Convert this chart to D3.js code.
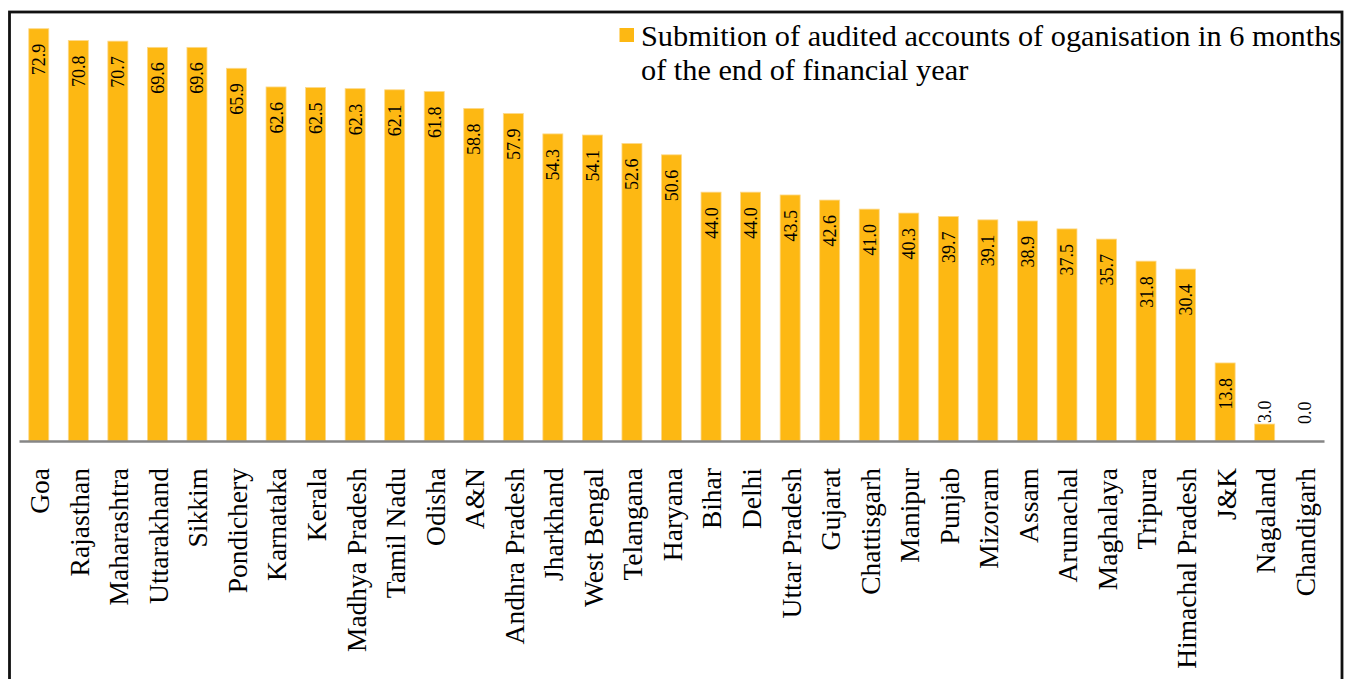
<!DOCTYPE html>
<html>
<head>
<meta charset="utf-8">
<script src="https://cdn.jsdelivr.net/npm/d3@7"></script>
<style>
  html, body { margin: 0; padding: 0; background: #fff; }
  svg { display: block; }
  text { font-family: "Liberation Serif", "Times New Roman", serif; fill: #000; }
</style>
</head>
<body>
<svg id="chart" width="1345" height="679"></svg>
<script>
const categories = ["Goa","Rajasthan","Maharashtra","Uttarakhand","Sikkim","Pondichery","Karnataka","Kerala","Madhya Pradesh","Tamil Nadu","Odisha","A&N","Andhra Pradesh","Jharkhand","West Bengal","Telangana","Haryana","Bihar","Delhi","Uttar Pradesh","Gujarat","Chattisgarh","Manipur","Punjab","Mizoram","Assam","Arunachal","Maghalaya","Tripura","Himachal Pradesh","J&K","Nagaland","Chandigarh"];
const values = [72.9,70.8,70.7,69.6,69.6,65.9,62.6,62.5,62.3,62.1,61.8,58.8,57.9,54.3,54.1,52.6,50.6,44.0,44.0,43.5,42.6,41.0,40.3,39.7,39.1,38.9,37.5,35.7,31.8,30.4,13.8,3.0,0.0];
const seriesName = ["Submition of audited accounts of oganisation in 6 months", "of the end of financial year"];

const svg = d3.select("#chart");
const barColor = "#FDB813";

// frame
svg.append("rect")
  .attr("x", 9.5).attr("y", 12).attr("width", 1332.5).attr("height", 700)
  .attr("fill", "none").attr("stroke", "#111").attr("stroke-width", 2.8);

const x = d3.scaleBand().domain(categories).range([19, 1324]).paddingInner(0.494).paddingOuter(0.247);
const y = d3.scaleLinear().domain([0, 72.9]).range([441, 28.7]);

const data = categories.map((c, i) => ({c, v: values[i]}));

svg.append("g").selectAll("rect").data(data).join("rect")
  .attr("x", d => x(d.c)).attr("width", x.bandwidth())
  .attr("y", d => y(d.v)).attr("height", d => y(0) - y(d.v))
  .attr("fill", barColor).attr("stroke", "#FDD98A").attr("stroke-width", 0.8);

// axis line
const xAxis = d3.axisBottom(x).tickSize(0).tickPadding(0);
const ax = svg.append("g").attr("transform", `translate(0,${y(0)})`).call(xAxis);
ax.select(".domain").attr("stroke", "#868686").attr("stroke-width", 2.6);
ax.selectAll(".tick text")
  .attr("font-family", "Liberation Serif, Times New Roman, serif")
  .attr("font-size", 27.5).attr("fill", "#000")
  .attr("text-anchor", "end")
  .attr("transform", "translate(0,27) rotate(-90)")
  .attr("x", 0).attr("y", 0).attr("dy", "0.38em");

// value labels
svg.append("g").selectAll("text").data(data).join("text")
  .attr("font-size", 18)
  .attr("transform", d => {
    const cx = x(d.c) + x.bandwidth() / 2;
    const h = y(0) - y(d.v);
    if (h > 55) return `translate(${cx},${y(d.v) + 15}) rotate(-90)`;
    return `translate(${cx},${Math.min(y(d.v), y(0) - 16) - 1}) rotate(-90)`;
  })
  .attr("text-anchor", d => (y(0) - y(d.v) > 55) ? "end" : "start")
  .attr("dy", "0.36em")
  .text(d => d.v.toFixed(1));

// legend
const lg = svg.append("g");
lg.append("rect").attr("x", 619.5).attr("y", 28).attr("width", 14.5).attr("height", 14).attr("fill", barColor);
lg.selectAll("text").data(seriesName).join("text")
  .attr("x", 641).attr("y", (d, i) => 45.5 + i * 34.5)
  .attr("font-size", 30.3)
  .text(d => d);
</script>
</body>
</html>
